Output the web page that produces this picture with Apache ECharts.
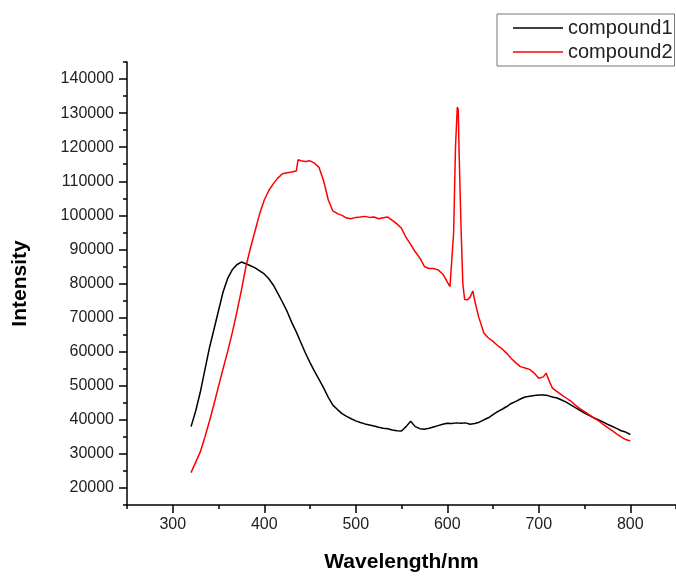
<!DOCTYPE html>
<html><head><meta charset="utf-8">
<script src="https://cdn.jsdelivr.net/npm/echarts@6/dist/echarts.min.js"></script>
<style>html,body{margin:0;padding:0;background:#fff}#c{width:676px;height:578px}</style>
</head><body><div id="c"></div>
<script>
const wavelength1 = [320,325,330,335,340,345,350,355,360,365,370,375,380,385,390,395,400,405,410,415,420,425,430,435,440,445,450,455,460,465,470,475,480,485,490,495,500,505,510,515,520,525,530,535,540,545,550,555,560,565,570,575,580,585,590,595,600,605,610,615,620,625,630,635,640,645,650,655,660,665,670,675,680,685,690,695,700,705,710,715,720,725,730,735,740,745,750,755,760,765,770,775,780,785,790,795,800];
const intensity1 = [38000,42500,48000,54500,61000,66500,72000,77500,81500,84000,85500,86300,85800,85200,84600,83700,82800,81400,79500,77000,74500,71800,68600,65800,62700,59600,56800,54200,51800,49300,46600,44300,43000,41800,41000,40300,39700,39200,38800,38500,38200,37800,37500,37400,37000,36800,36700,38000,39600,38000,37400,37200,37500,37900,38300,38700,39000,38900,39100,39000,39100,38700,38900,39300,40000,40600,41500,42400,43100,43900,44800,45400,46100,46700,46900,47100,47300,47300,47100,46700,46400,45800,45200,44400,43600,42800,42000,41300,40600,40000,39400,38700,38100,37500,36800,36400,35700];
const wavelength2 = [320,325,330,335,340,345,350,355,360,365,370,375,380,385,390,395,400,405,410,415,420,425,430,435,437,440,445,450,455,460,465,470,475,480,485,490,495,500,505,510,515,520,525,530,535,540,545,550,555,560,565,570,575,580,585,590,595,600,603,605,607,609,611,612,613,615,617,619,622,625,628,630,634,640,645,650,655,660,665,670,675,680,685,690,695,700,705,708,712,715,720,725,730,735,740,745,750,755,760,765,770,775,780,785,790,795,800];
const intensity2 = [24500,27500,30500,34800,39500,44500,49800,55000,60000,65500,71500,78000,85000,90500,95500,100500,104500,107300,109300,111000,112200,112500,112700,113000,116300,116000,115800,116000,115300,114000,110000,104500,101300,100500,100000,99200,99000,99400,99500,99700,99400,99500,99000,99300,99500,98500,97500,96200,93500,91500,89300,87500,85000,84400,84400,84000,82800,80500,79100,78700,95000,120000,131800,131000,118000,97000,80000,75300,75200,76000,77800,75000,70500,65500,64000,63000,61800,60800,59500,58000,56700,55600,55200,54800,53700,52200,52600,53700,51000,49300,48300,47300,46400,45500,44300,43300,42400,41500,40600,39800,38700,37800,36900,35900,35000,34200,33800];
const seriesNames = ['compound1', 'compound2'];
const xTickLabels = [300, 400, 500, 600, 700, 800];
const yTickLabels = [20000, 30000, 40000, 50000, 60000, 70000, 80000, 90000, 100000, 110000, 120000, 130000, 140000];

const X_MIN = 250, X_MAX = 850, X_STEP = 50;
const Y_MIN = 15000, Y_MAX = 145000, Y_STEP = 5000;
const FONT = 'Arial, "Liberation Sans", Helvetica, sans-serif';

const xCats = []; for (let v = X_MIN; v <= X_MAX; v += X_STEP) xCats.push(String(v));
const yCats = []; for (let v = Y_MIN; v <= Y_MAX; v += Y_STEP) yCats.push(String(v));
const showX = (i) => xTickLabels.includes(Number(xCats[i]));
const showY = (i) => yTickLabels.includes(Number(yCats[i]));

const chart = echarts.init(document.getElementById('c'), null, {renderer: 'canvas'});
const axisLine = {show: true, lineStyle: {color: '#000', width: 1.5}};
chart.setOption({
  animation: false,
  backgroundColor: '#fff',
  grid: {left: 127, top: 62, width: 554, height: 450, containLabel: false},
  legend: {
    data: seriesNames, orient: 'vertical', left: 497, top: 14,
    icon: 'rect', itemWidth: 50, itemHeight: 1.5, itemGap: 4,
    padding: [4, 2, 4, 16],
    borderColor: '#777', borderWidth: 1,
    textStyle: {fontFamily: FONT, fontSize: 20, color: '#222', padding: [0, 0, 0, 0]}
  },
  xAxis: [
    {type: 'value', min: X_MIN, max: X_MAX, interval: X_STEP, position: 'bottom',
     axisLine: axisLine, axisTick: {show: true, length: 4, lineStyle: {color: '#000', width: 1.5}},
     axisLabel: {show: false}, splitLine: {show: false}},
    {type: 'category', data: xCats, boundaryGap: false, position: 'bottom', gridIndex: 0,
     axisLine: {show: false},
     axisTick: {show: true, interval: showX, length: 8, lineStyle: {color: '#000', width: 1.5}},
     axisLabel: {interval: showX, margin: 12,
                 fontFamily: FONT, fontSize: 16, color: '#222'},
     splitLine: {show: false},
     name: 'Wavelength/nm', nameLocation: 'middle', nameGap: 47,
     nameTextStyle: {fontFamily: FONT, fontSize: 21, fontWeight: 'bold', color: '#000'}}
  ],
  yAxis: [
    {type: 'value', min: Y_MIN, max: Y_MAX, interval: Y_STEP, position: 'left',
     axisLine: axisLine, axisTick: {show: true, length: 4, lineStyle: {color: '#000', width: 1.5}},
     axisLabel: {show: false}, splitLine: {show: false}},
    {type: 'category', data: yCats, boundaryGap: false, position: 'left', gridIndex: 0, offset: 0,
     axisLine: {show: false},
     axisTick: {show: true, interval: showY, length: 8, lineStyle: {color: '#000', width: 1.5}},
     axisLabel: {interval: showY, margin: 13,
                 fontFamily: FONT, fontSize: 16, color: '#222'},
     splitLine: {show: false},
     name: 'Intensity', nameLocation: 'middle', nameGap: 96, nameRotate: 90,
     nameTextStyle: {fontFamily: FONT, fontSize: 21, fontWeight: 'bold', color: '#000'}}
  ],
  series: [
    {name: seriesNames[0], type: 'line', xAxisIndex: 0, yAxisIndex: 0, symbol: 'none',
     lineStyle: {color: '#000', width: 1.5}, itemStyle: {color: '#000'},
     data: wavelength1.map((w, i) => [w, intensity1[i]])},
    {name: seriesNames[1], type: 'line', xAxisIndex: 0, yAxisIndex: 0, symbol: 'none',
     lineStyle: {color: '#ff0000', width: 1.5}, itemStyle: {color: '#ff0000'},
     data: wavelength2.map((w, i) => [w, intensity2[i]])}
  ]
});
</script></body></html>
